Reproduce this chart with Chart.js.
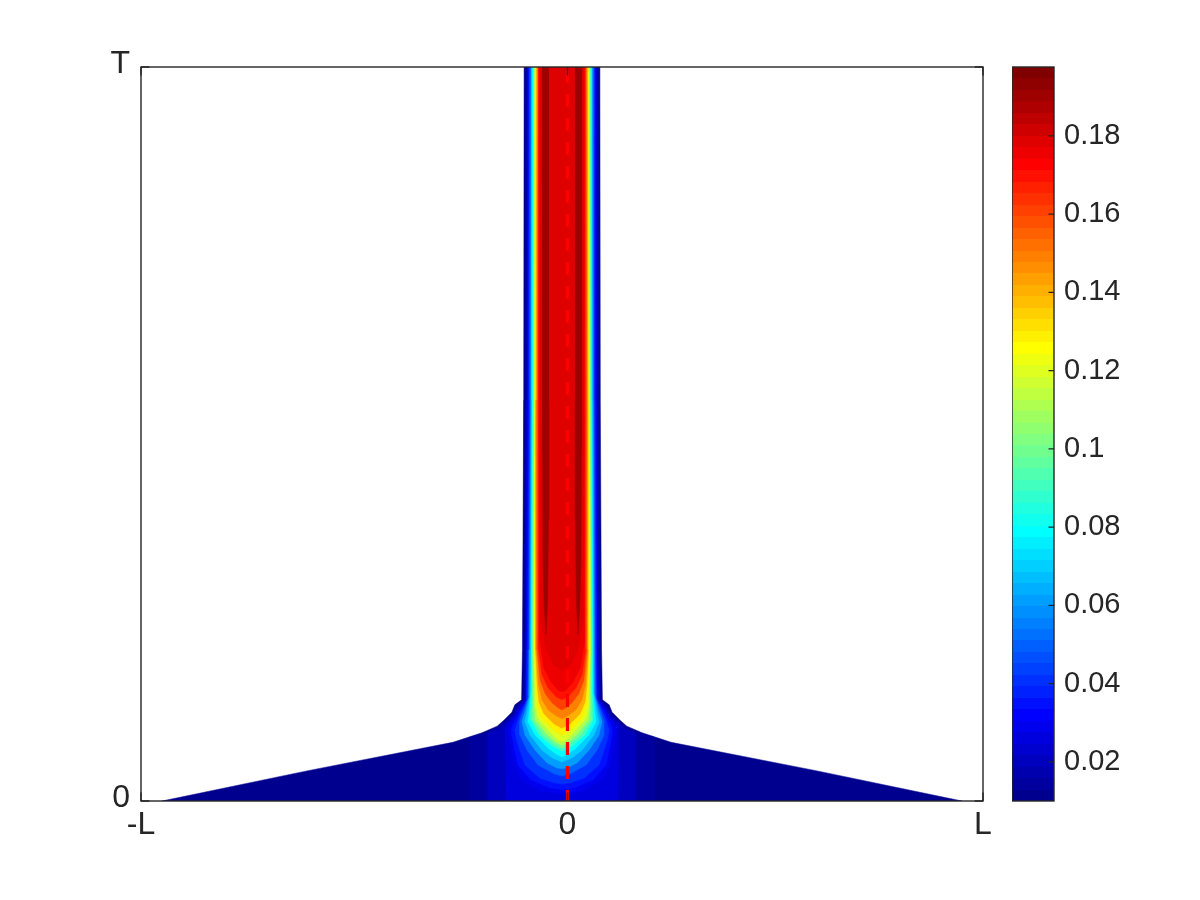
<!DOCTYPE html>
<html>
<head>
<meta charset="utf-8">
<title>contour</title>
<script src="https://cdn.jsdelivr.net/npm/chart.js@4.4.0/dist/chart.umd.min.js"></script>
<style>
  html, body { margin: 0; background: #fff; }
  #wrap { position: relative; width: 1200px; height: 900px; }
  canvas { position: absolute; top: 0; }
  #field { left: 0; }
  #bar { left: 1012px; }
</style>
</head>
<body>
<div id="wrap">
  <canvas id="field" width="1200" height="900"></canvas>
  <canvas id="bar" width="188" height="900"></canvas>
</div>
<script>
// axes: x in % of L (centre of the domain at 0), y in % of T
const xTickValues = [-100, 1.3, 100];
const xTickLabels = ['-L', '0', 'L'];
const yTickValues = [0, 100];
const yTickLabels = ['0', 'T'];
const zeroLineX = 1.3;

// colour scale
const cMin = 0.0100;
const cMax = 0.1976;
const cbTickValues = [0.02, 0.04, 0.06, 0.08, 0.1, 0.12, 0.14, 0.16, 0.18];
const cbTickLabels = ['0.02', '0.04', '0.06', '0.08', '0.1', '0.12', '0.14', '0.16', '0.18'];

// contour levels and the right half of each filled region [x%, y%], top to bottom
const levels = [0.010, 0.015, 0.020, 0.025, 0.030, 0.035, 0.040, 0.050, 0.060, 0.070, 0.080,
  0.090, 0.100, 0.110, 0.120, 0.130, 0.140, 0.150, 0.160, 0.170, 0.175, 0.180];
const halfProfiles = [
  [[9.0,100],[9.1,54.6],[9.4,20.6],[9.6,13.8],[11.2,13.1],[11.9,12.1],[13.8,11.0],[15.4,10.2],[19.0,9.3],[25.9,8.0],[60.6,4.1],[95.0,0]],
  [[8.7,100],[8.8,54.6],[9.0,20.6],[9.3,13.8],[10.9,12.9],[11.6,11.9],[13.5,10.9],[15.2,10.1],[18.8,9.1],[21.9,8.7],[21.9,0]],
  [[8.3,100],[8.4,54.6],[8.7,20.6],[8.9,13.8],[10.7,12.7],[11.4,11.8],[13.3,10.8],[14.7,9.9],[17.6,9.2],[17.6,0]],
  [[8.1,100],[8.2,54.6],[8.5,20.6],[8.7,13.8],[10.45,12.5],[11.2,11.6],[12.8,10.6],[13.5,10.1],[13.3,0]],
  [[8.0,100],[8.1,54.6],[8.3,20.6],[8.55,13.8],[10.2,12.4],[10.9,11.5],[12.35,10.5],[12.6,9.0],[11.9,6.9],[11.4,4.9],[9.5,2.9],[5.2,1.4],[0,1.0]],
  [[7.8,100],[8.0,54.6],[8.2,20.6],[8.4,13.8],[10.0,12.3],[10.7,11.3],[11.9,10.1],[11.9,9.0],[11.2,6.9],[10.45,4.9],[7.4,2.9],[2.9,1.8],[0,1.6]],
  [[7.7,100],[7.8,54.6],[8.1,20.6],[8.3,13.8],[9.7,12.1],[10.45,11.0],[11.2,9.7],[10.9,8.6],[10.0,6.9],[8.8,4.9],[5.2,3.1],[1.9,2.5],[0,2.3]],
  [[7.5,100],[7.6,54.6],[7.8,20.6],[8.1,14.0],[9.3,12.1],[10.0,10.9],[10.0,9.0],[8.3,6.9],[5.7,4.9],[1.9,3.7],[0,3.4]],
  [[7.3,100],[7.4,54.6],[7.7,20.6],[7.8,14.3],[8.8,12.1],[9.5,10.8],[8.8,9.0],[6.4,6.9],[3.6,5.2],[1.2,4.5],[0,4.4]],
  [[7.1,100],[7.2,54.6],[7.5,20.6],[7.6,14.6],[8.3,12.1],[8.8,10.8],[7.6,9.0],[4.75,6.9],[2.4,5.9],[0,5.3]],
  [[7.0,100],[7.1,54.6],[7.3,20.6],[7.4,14.9],[7.8,12.1],[8.1,10.8],[6.4,9.0],[3.3,7.2],[1.4,6.4],[0,6.0]],
  [[6.8,100],[6.9,54.6],[7.2,20.6],[7.1,15.1],[7.4,12.4],[7.4,11.0],[5.5,9.0],[2.4,7.5],[0,6.8]],
  [[6.65,100],[6.8,54.6],[7.0,20.6],[6.9,15.1],[7.0,12.7],[6.9,11.0],[4.5,9.0],[1.9,7.8],[0,7.2]],
  [[6.5,100],[6.6,54.6],[6.8,20.6],[6.65,15.1],[6.65,12.7],[6.3,11.0],[3.6,9.1],[1.4,8.0],[0,7.6]],
  [[6.4,100],[6.5,54.6],[6.7,20.6],[6.4,15.1],[6.3,12.9],[5.7,11.2],[2.9,9.4],[1.2,8.4],[0,8.0]],
  [[6.2,100],[6.3,54.6],[6.5,20.6],[6.2,15.4],[5.9,13.2],[5.0,11.4],[2.1,9.7],[0,8.9]],
  [[6.1,100],[6.2,54.6],[6.3,20.6],[5.9,15.7],[5.5,13.5],[4.3,11.9],[1.9,10.5],[0,9.9]],
  [[5.9,100],[6.0,54.6],[6.1,20.6],[5.6,15.9],[4.75,13.8],[3.3,12.4],[1.4,11.6],[0,11.2]],
  [[5.7,100],[5.8,54.6],[5.9,20.6],[5.2,16.5],[4.0,14.6],[2.4,13.4],[0.95,12.7],[0,12.4]],
  [[5.5,100],[5.5,54.6],[5.6,20.6],[4.75,17.2],[3.3,15.4],[1.4,14.2],[0,13.8]],
  [[5.3,100],[5.3,54.6],[5.4,21.9],[4.3,18.1],[2.6,16.2],[0.95,15.1],[0,14.9]],
  [[5.1,100],[5.1,54.6],[5.1,24.7],[3.8,20.6],[1.9,18.5],[0,17.8]]
];
// the two dark ribbons either side of the centre (right one; left is its mirror)
const ribbonLevel = 0.19;
const ribbonRight = [[3.1,100],[4.6,100],[4.6,47.8],[4.5,32.8],[4.2,26.0],[3.8,22.6],[3.4,27.4],[3.2,38.3],[3.1,54.6]];

const FONT = "'Liberation Sans', Arial, Helvetica, sans-serif";
const INK = '#262626';

// matlab jet(64)
function jetRow(k) {
  const c = (a) => Math.round(255 * Math.max(0, Math.min(1, a)));
  const r = c(Math.min((k - 24) / 16, (72 - k) / 16));
  const g = c(Math.min((k - 8) / 16, (56 - k) / 16));
  const b = c(Math.min((k + 8) / 16, (40 - k) / 16));
  return `rgb(${r},${g},${b})`;
}
function jetColor(v) {
  const k = Math.floor((v - cMin) / (cMax - cMin) * 64 + 1e-9) + 1;
  return jetRow(Math.min(64, Math.max(1, k)));
}

function outline(half) {
  const pts = half.map(([x, y]) => ({ x: -x, y }));
  for (let i = half.length - 1; i >= 0; i--) {
    const [x, y] = half[i];
    if (x === 0 && i === half.length - 1) continue;
    pts.push({ x, y });
  }
  return pts;
}

function region(points, color) {
  return {
    data: points,
    showLine: true,
    fill: 'shape',
    backgroundColor: color,
    borderColor: color,
    borderWidth: 0.5,
    pointRadius: 0,
    tension: 0,
  };
}

const levelSets = levels.map((v, i) => region(outline(halfProfiles[i]), jetColor(v))).reverse();
const ribbonSets = [
  region(ribbonRight.map(([x, y]) => ({ x: -x, y })), jetColor(ribbonLevel)),
  region(ribbonRight.map(([x, y]) => ({ x, y })), jetColor(ribbonLevel)),
];
const dashed = {
  data: [{ x: zeroLineX, y: 0 }, { x: zeroLineX, y: 100 }],
  showLine: true,
  fill: false,
  borderColor: '#ff0000',
  borderWidth: 3.2,
  borderDash: [13, 11],
  borderDashOffset: 2,
  borderCapStyle: 'butt',
  pointRadius: 0,
};

const boxPlugin = {
  id: 'box',
  afterDraw(chart) {
    const { ctx, chartArea: a, scales } = chart;
    const tl = 8.4;
    ctx.save();
    ctx.strokeStyle = INK;
    ctx.lineWidth = 1.4;
    ctx.strokeRect(a.left, a.top, a.right - a.left, a.bottom - a.top);
    ctx.beginPath();
    xTickValues.forEach((v) => {
      const px = scales.x.getPixelForValue(v);
      ctx.moveTo(px, a.bottom); ctx.lineTo(px, a.bottom - tl);
      ctx.moveTo(px, a.top); ctx.lineTo(px, a.top + tl);
    });
    yTickValues.forEach((v) => {
      const py = scales.y.getPixelForValue(v);
      ctx.moveTo(a.left, py); ctx.lineTo(a.left + tl, py);
      ctx.moveTo(a.right, py); ctx.lineTo(a.right - tl, py);
    });
    ctx.stroke();
    ctx.restore();
  },
};

new Chart(document.getElementById('field'), {
  type: 'scatter',
  data: { datasets: [dashed, ...ribbonSets, ...levelSets] },
  options: {
    responsive: false,
    animation: false,
    events: [],
    layout: { padding: { left: 0, right: 217, top: 67, bottom: 0 } },
    plugins: { legend: { display: false }, tooltip: { enabled: false } },
    scales: {
      x: {
        type: 'linear', min: -100, max: 100,
        grid: { display: false, drawTicks: false }, border: { display: false },
        afterBuildTicks: (s) => { s.ticks = xTickValues.map((value) => ({ value })); },
        afterFit: (s) => { s.height = 99; },
        ticks: {
          autoSkip: false, maxRotation: 0, padding: 5,
          color: INK, font: { family: FONT, size: 32 },
          callback: (v, i) => xTickLabels[i],
        },
      },
      y: {
        type: 'linear', min: 0, max: 100,
        grid: { display: false, drawTicks: false }, border: { display: false },
        afterBuildTicks: (s) => { s.ticks = yTickValues.map((value) => ({ value })); },
        afterFit: (s) => { s.width = 141; },
        ticks: {
          autoSkip: false, padding: 11, labelOffset: -3,
          color: INK, font: { family: FONT, size: 32 },
          callback: (v, i) => yTickLabels[i],
        },
      },
    },
  },
  plugins: [boxPlugin],
});

const colorbarPlugin = {
  id: 'colorbar',
  beforeDatasetsDraw(chart) {
    const { ctx, chartArea: a, scales } = chart;
    const step = (cMax - cMin) / 64;
    ctx.save();
    for (let k = 1; k <= 64; k++) {
      const top = Math.round(scales.y.getPixelForValue(cMin + k * step));
      const bottom = Math.round(scales.y.getPixelForValue(cMin + (k - 1) * step));
      ctx.fillStyle = jetRow(k);
      ctx.fillRect(a.left, top, a.right - a.left, bottom - top);
    }
    ctx.strokeStyle = INK;
    ctx.lineWidth = 1.4;
    ctx.strokeRect(a.left, a.top, a.right - a.left, a.bottom - a.top);
    ctx.beginPath();
    cbTickValues.forEach((v) => {
      const py = scales.y.getPixelForValue(v);
      ctx.moveTo(a.right, py); ctx.lineTo(a.right - 5.5, py);
    });
    ctx.stroke();
    ctx.restore();
  },
};

new Chart(document.getElementById('bar'), {
  type: 'scatter',
  data: { datasets: [] },
  options: {
    responsive: false,
    animation: false,
    events: [],
    layout: { padding: { left: 0, right: 0, top: 67, bottom: 99 } },
    plugins: { legend: { display: false }, tooltip: { enabled: false } },
    scales: {
      x: { display: false, min: 0, max: 1 },
      y: {
        type: 'linear', position: 'right', min: cMin, max: cMax,
        grid: { display: false, drawTicks: false }, border: { display: false },
        afterBuildTicks: (s) => { s.ticks = cbTickValues.map((value) => ({ value })); },
        afterFit: (s) => { s.width = 146; },
        ticks: {
          autoSkip: false, padding: 10,
          color: INK, font: { family: FONT, size: 29 },
          callback: (v, i) => cbTickLabels[i],
        },
      },
    },
  },
  plugins: [colorbarPlugin],
});
</script>
</body>
</html>
